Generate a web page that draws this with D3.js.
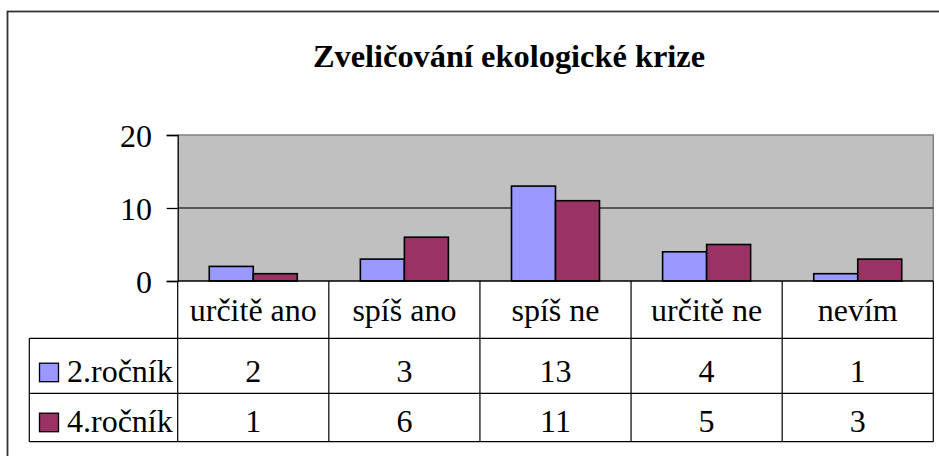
<!DOCTYPE html>
<html><head><meta charset="utf-8">
<script src="https://cdn.jsdelivr.net/npm/d3@7"></script>
<style>html,body{margin:0;padding:0;background:#fff;}svg{display:block;}</style>
</head><body>
<script>
const title = "Zveličování ekologické krize";
const categories = ["určitě ano", "spíš ano", "spíš ne", "určitě ne", "nevím"];
const seriesNames = ["2.ročník", "4.ročník"];
const values2 = [2, 3, 13, 4, 1];
const values4 = [1, 6, 11, 5, 3];
const yTicks = [0, 10, 20];
const colors = ["#9999FF", "#993366"];

const W = 939, H = 456;
const FONT = "Liberation Serif";
const svg = d3.select("body").append("svg").attr("width", W).attr("height", H)
  .attr("font-family", FONT);

// outer chart border
svg.append("rect").attr("x", 7.5).attr("y", 11.5).attr("width", W).attr("height", H)
  .attr("fill", "#fff").attr("stroke", "#333").attr("stroke-width", 1.8);

// title
svg.append("text").attr("x", 509).attr("y", 66.5).attr("text-anchor", "middle")
  .attr("font-family", FONT).attr("font-weight", "bold").attr("font-size", 32.4)
  .attr("fill", "#000").text(title);

const plotL = 177.7, plotR = 933.3, plotT = 135, plotB = 281;
const x = d3.scaleBand().domain(categories).range([plotL, plotR]).padding(0);
const xs = d3.scaleBand().domain(seriesNames).range([0, x.bandwidth()]).paddingInner(0).paddingOuter(0.717);
const y = d3.scaleLinear().domain([0, 20]).range([plotB, plotT]);

svg.append("rect").attr("x", plotL).attr("y", plotT).attr("width", plotR - plotL).attr("height", plotB - plotT)
  .attr("fill", "#C0C0C0");
svg.append("path").attr("d", `M${plotL},${plotT}H${plotR}V${plotB}`).attr("fill", "none")
  .attr("stroke", "#808080").attr("stroke-width", 1.5);
svg.append("g").selectAll("line").data(yTicks.filter(t => t > 0 && t < 20)).join("line")
  .attr("x1", plotL).attr("x2", plotR).attr("y1", d => y(d)).attr("y2", d => y(d))
  .attr("stroke", "#333").attr("stroke-width", 1.3);

const data = [values2, values4];
data.forEach((vals, si) => {
  svg.append("g").selectAll("rect").data(vals).join("rect")
    .attr("x", (d, i) => x(categories[i]) + xs(seriesNames[si]))
    .attr("y", d => y(d))
    .attr("width", xs.bandwidth())
    .attr("height", d => y(0) - y(d))
    .attr("fill", colors[si]).attr("stroke", "#000").attr("stroke-width", 1.6);
});

const yAxis = d3.axisLeft(y).tickValues(yTicks).tickSize(11).tickPadding(14.7).tickFormat(d3.format("d"));
const ya = svg.append("g").attr("transform", `translate(${plotL},0)`).call(yAxis);
ya.attr("font-family", FONT).attr("font-size", 32);
ya.select(".domain").attr("stroke", "#000").attr("stroke-width", 1.3);
ya.selectAll(".tick line").attr("stroke", "#000").attr("stroke-width", 1.3);
ya.selectAll(".tick text").attr("font-family", FONT).attr("font-size", 32).attr("fill", "#000").attr("dy", "0.36em");

const tableL = 29.3, row1B = 338.3, row2B = 393.3, row3B = 441.7;
const tg = svg.append("g").attr("stroke", "#000").attr("stroke-width", 1.2);
tg.append("line").attr("x1", plotL).attr("x2", plotR).attr("y1", plotB).attr("y2", plotB).attr("stroke-width", 1.5);
[row1B, row2B, row3B].forEach(yy => {
  tg.append("line").attr("x1", tableL).attr("x2", plotR).attr("y1", yy).attr("y2", yy);
});
tg.append("line").attr("x1", tableL).attr("x2", tableL).attr("y1", row1B).attr("y2", row3B);
tg.append("line").attr("x1", plotL).attr("x2", plotL).attr("y1", plotB).attr("y2", row3B);
categories.forEach((c) => {
  const xx = x(c) + x.bandwidth();
  tg.append("line").attr("x1", xx).attr("x2", xx).attr("y1", plotB).attr("y2", row3B);
});

// header text
svg.append("g").selectAll("text").data(categories).join("text")
  .attr("x", d => x(d) + x.bandwidth() / 2).attr("y", plotB + 40)
  .attr("text-anchor", "middle").attr("font-family", FONT).attr("font-size", 32).attr("fill", "#000")
  .text(d => d);

const rowBase = [row1B + 43.4, row2B + 38.4];
data.forEach((vals, si) => {
  svg.append("g").selectAll("text").data(vals).join("text")
    .attr("x", (d, i) => x(categories[i]) + x.bandwidth() / 2).attr("y", rowBase[si])
    .attr("text-anchor", "middle").attr("font-family", FONT).attr("font-size", 32).attr("fill", "#000")
    .text(d => d);
  svg.append("rect").attr("x", 39.5).attr("y", rowBase[si] - 18.5).attr("width", 19).attr("height", 18.5)
    .attr("fill", colors[si]).attr("stroke", "#000").attr("stroke-width", 1.3);
  svg.append("text").attr("x", 67).attr("y", rowBase[si])
    .attr("font-family", FONT).attr("font-size", 32).attr("fill", "#000").text(seriesNames[si]);
});
</script>
</body></html>
